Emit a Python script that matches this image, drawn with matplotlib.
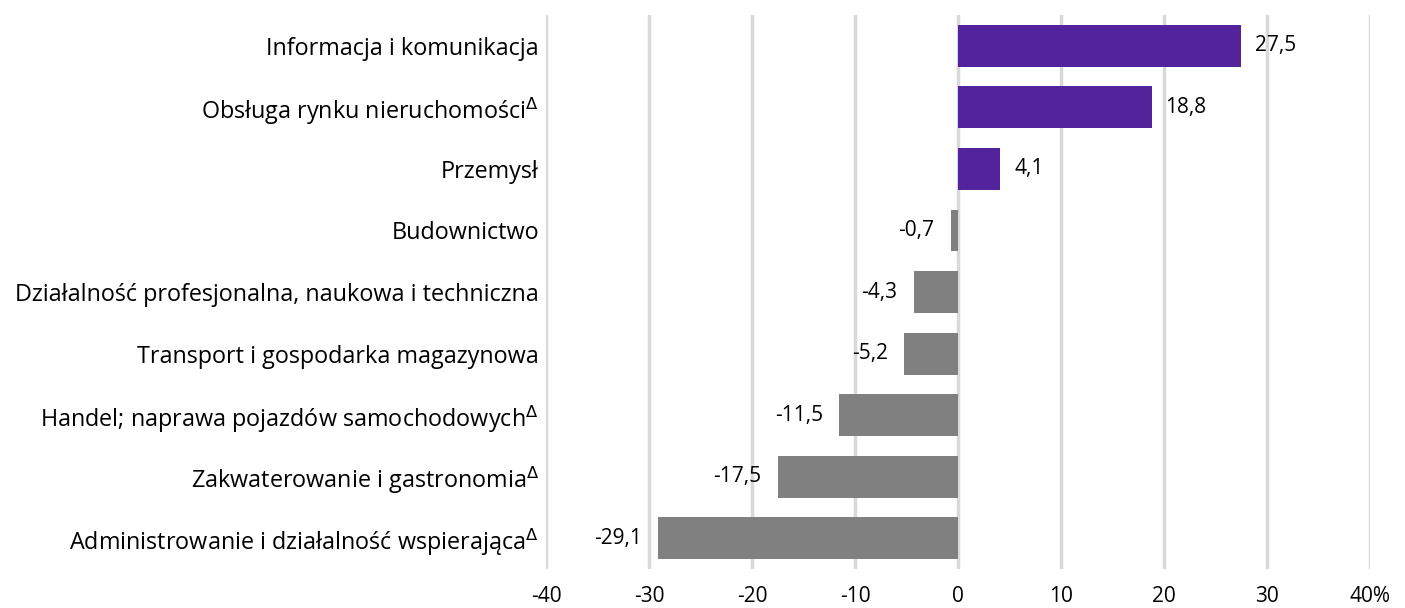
import matplotlib
matplotlib.use("Agg")
import matplotlib.pyplot as plt

categories = [
    "Informacja i komunikacja",
    "Obsługa rynku nieruchomości$^{\\Delta}$",
    "Przemysł",
    "Budownictwo",
    "Działalność profesjonalna, naukowa i techniczna",
    "Transport i gospodarka magazynowa",
    "Handel; naprawa pojazdów samochodowych$^{\\Delta}$",
    "Zakwaterowanie i gastronomia$^{\\Delta}$",
    "Administrowanie i działalność wspierająca$^{\\Delta}$",
]
values = [27.5, 18.8, 4.1, -0.7, -4.3, -5.2, -11.5, -17.5, -29.1]
xticks = [-40, -30, -20, -10, 0, 10, 20, 30, 40]
xtick_labels = ["-40", "-30", "-20", "-10", "0", "10", "20", "30", "40%"]

PURPLE = "#52239b"
GREY = "#808080"

plt.rcParams["font.family"] = ["Open Sans", "DejaVu Sans"]
plt.rcParams["mathtext.fontset"] = "dejavusans"

fig = plt.figure(figsize=(14.05, 6.08), dpi=100)
ax = fig.add_axes([0.3886, 0.0641, 0.5864, 0.9112])

ypos = list(range(len(categories)))
colors = [PURPLE if v > 0 else GREY for v in values]
ax.barh(ypos, values, height=0.68, color=colors, zorder=3)

# value labels: right of positive bars, left of negative ones
for y, v in zip(ypos, values):
    txt = f"{v:.1f}".replace(".", ",")
    if v >= 0:
        ax.annotate(txt, (v, y), xytext=(10, 0), textcoords="offset points",
                    ha="left", va="center", fontsize=15, color="black")
    else:
        ax.annotate(txt, (v, y), xytext=(-12, 0), textcoords="offset points",
                    ha="right", va="center", fontsize=15, color="black")

ax.set_xlim(-40, 40)
ax.set_ylim(len(categories) - 0.5, -0.5)
ax.set_xticks(xticks)
ax.set_xticklabels(xtick_labels, fontsize=15)
ax.set_yticks(ypos)
ax.set_yticklabels(categories, fontsize=16.8)
ax.tick_params(axis="both", length=0)
ax.tick_params(axis="x", pad=12)
ax.tick_params(axis="y", pad=5)
ax.grid(axis="x", color="#d9d9d9", linewidth=2.5, zorder=0)
for s in ax.spines.values():
    s.set_visible(False)

fig.savefig("out.png", dpi=100)
